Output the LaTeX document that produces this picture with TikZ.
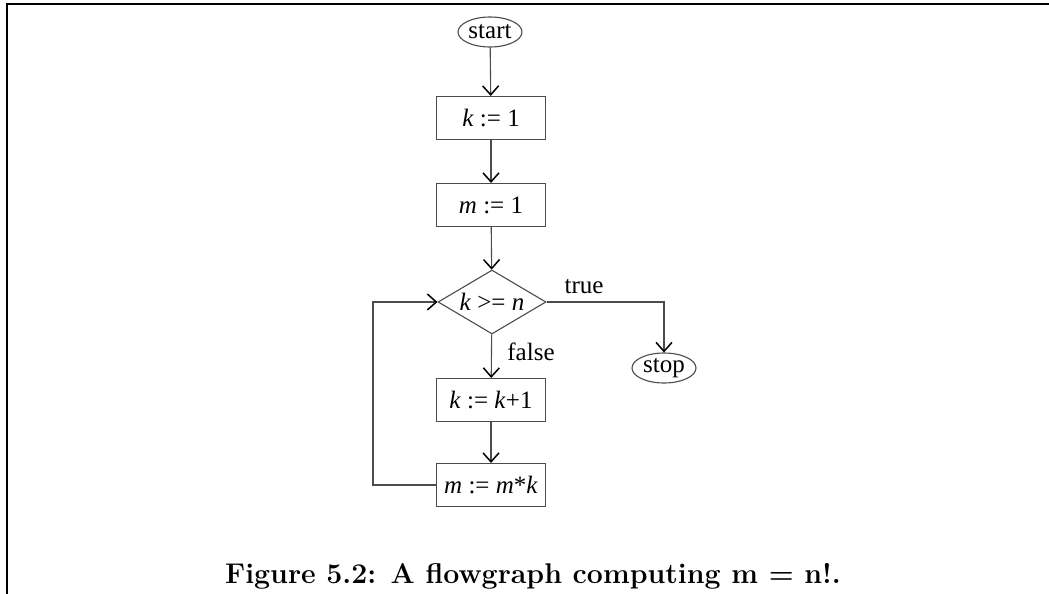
\documentclass[tikz,border=0pt]{standalone}
\usepackage{fontspec}
\newfontfamily\tms{Liberation Serif}
\usetikzlibrary{shapes.geometric,arrows.meta}
\begin{document}
\begin{tikzpicture}[x=1pt,y=-1pt,
  conn/.style={draw=black!70,line width=1.1pt},
  arr/.style={conn,-{Straight Barb[length=9pt,width=16pt,line width=1.5pt,color=black]}},
  stepbox/.style={draw=black!70,line width=1.1pt,rectangle,minimum width=109pt,minimum height=43pt,inner sep=0pt,font=\tms\fontsize{25}{28}\selectfont},
  term/.style={draw=black!70,line width=1.1pt,ellipse,minimum width=64pt,minimum height=30pt,inner sep=0pt,font=\tms\fontsize{25}{28}\selectfont},
  test/.style={draw=black!70,line width=1.1pt,diamond,minimum width=108pt,minimum height=64pt,inner sep=0pt,shape aspect=1.69,font=\tms\fontsize{25}{28}\selectfont},
  lbl/.style={font=\tms\fontsize{25}{28}\selectfont,inner sep=0pt,anchor=base}]
\useasboundingbox (0,0) rectangle (1049,594);
\draw[line width=2.3pt] (7,594) -- (7,4) -- (1049,4);
\node[term] (start) at (490,32) {start};
\node[stepbox] (k1) at (491,118) {\textit{k} := 1};
\node[stepbox] (m1) at (491,205) {\textit{m} := 1};
\node[test] (test) at (492,302) {\textit{k} >= \textit{n}};
\node[term] (stop) at (664,368) {stop};
\node[stepbox] (kinc) at (491,400) {\textit{k} := \textit{k}+1};
\node[stepbox] (mmul) at (491,485) {\textit{m} := \textit{m}*\textit{k}};
\coordinate (tc) at (664,302);
\coordinate (lc) at (373,485);
\draw[arr] (start) -- (k1);
\draw[arr] (k1) -- (m1);
\draw[arr] (m1) -- (test);
\draw[arr] (test) -- (kinc);
\draw[arr] (kinc) -- (mmul);
\draw[arr] (test.east) -- (tc) -- (stop.north);
\draw[arr] (mmul.west) -- (lc) |- (test.west);
\node[lbl] (tl) at (584,293) {true};
\node[lbl] (fl) at (531,360) {false};
\node[anchor=base,inner sep=0pt,font=\bfseries\fontsize{28.5}{33}\selectfont] (cap) at (533,583) {Figure 5.2: A flowgraph computing m = n!.};
\end{tikzpicture}
\end{document}
